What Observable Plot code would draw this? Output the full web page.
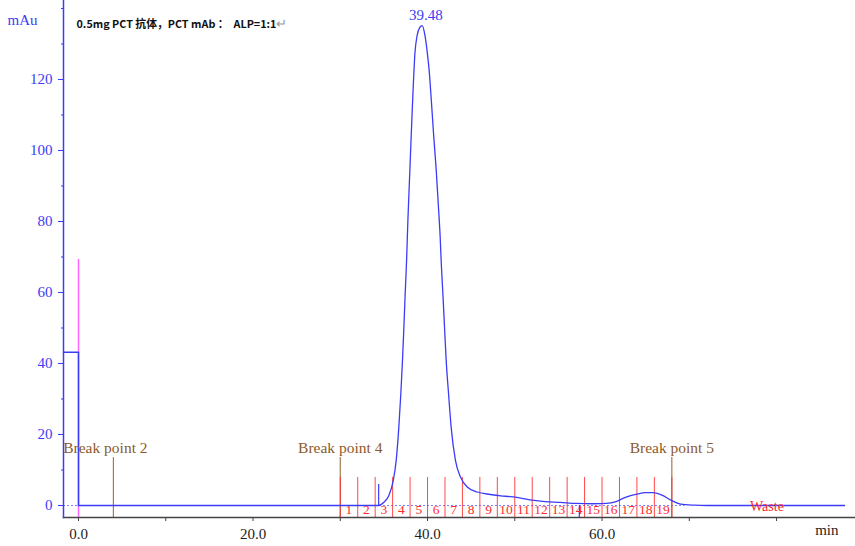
<!DOCTYPE html>
<html><head><meta charset="utf-8">
<script src="https://cdn.jsdelivr.net/npm/d3@7"></script>
<script src="https://cdn.jsdelivr.net/npm/@observablehq/plot@0.6"></script>
<style>body{margin:0;background:#fff}</style>
</head><body><div id="chart"></div>
<script>
// ---- data ----
const titleText = "0.5mg PCT 抗体，PCT mAb ：  ALP=1:1";
const stepTime = [-1.72, 0, 0];
const stepValue = [43.2, 43.2, 0];
const curveTime = [0, 34.4, 35.0, 35.57, 36.07, 36.41, 36.71, 36.94, 37.13, 37.29, 37.44, 37.6, 37.75, 37.9, 38.05, 38.2, 38.36, 38.55, 38.8, 39.1, 39.4, 39.7, 40.0, 40.19, 40.46, 40.72, 41.0, 41.23, 41.45, 41.58, 41.76, 41.95, 42.14, 42.41, 42.71, 43.2, 43.78, 44.55, 45.7, 47.2, 48.4, 49.5, 50.7, 52.0, 53.5, 55.2, 57.0, 59.0, 60.5, 61.5, 62.6, 64.0, 65.0, 65.8, 66.8, 67.9, 69.0, 70.6, 72.0, 87.8];
const curveValue = [0, 0, 0.9, 2.8, 7, 12.7, 22, 31.5, 40.8, 50.2, 59.6, 69, 80.3, 89.7, 99.1, 108.5, 117.8, 127.2, 132.3, 134.6, 135.2, 132.5, 127, 122.5, 113.2, 103.7, 94.4, 85, 75.6, 68, 59.6, 50.2, 40.8, 31.5, 22, 12.7, 8, 5.2, 3.8, 3.1, 2.7, 2.5, 2.1, 1.5, 1.1, 0.9, 0.6, 0.5, 0.6, 1.0, 2.2, 3.2, 3.6, 3.6, 3.0, 1.5, 0.4, 0.1, 0, 0];
const peakTime = 39.48;
const peakValue = 135.2;
const eventTime = [34.4, 57.4];
const eventTop = [5.9, -3.38];
const injectTime = [0];
const injectTop = 69.3;
const breakTime = [4, 30, 68];
const breakLabel = ["Break point 2", "Break point 4", "Break point 5"];
const breakTop = 13.5;
const fractionEdges = [30, 32, 34, 36, 38, 40, 42, 44, 46, 48, 50, 52, 54, 56, 58, 60, 62, 64, 66, 68];
const fractionLabels = ["1","2","3","4","5","6","7","8","9","10","11","12","13","14","15","16","17","18","19"];
const fractionTop = 7.9;
const wasteLabel = "Waste";
const wasteTime = 78.9;
const xLabeled = [0, 20, 40, 60];
const xUnlabeled = [10, 30, 50, 70, 80];
const yLabeled = [0, 20, 40, 60, 80, 100, 120];
const yMinor = [10, 30, 50, 70, 90, 110, 130, 140];
const xDomain = [-1.72, 89.05];
const yDomain = [-3.38, 142.25];

// ---- styles ----
const BLUE = "#3c3cf8";
const BROWN = "#8b5a2b";
const RED = "#ff2a2a";
const SERIF = "Liberation Serif, Times New Roman, serif";

const stepData = stepTime.map((t, i) => ({t, v: stepValue[i]}));
const curveData = curveTime.map((t, i) => ({t, v: curveValue[i]}));
const eventData = eventTime.map((t, i) => ({t, top: eventTop[i]}));
const breakData = breakTime.map((t, i) => ({t, label: breakLabel[i]}));
const fracMid = d3.pairs(fractionEdges, (a, b) => (a + b) / 2);
const fracData = fracMid.map((t, i) => ({t, label: fractionLabels[i]}));
const yMin = yDomain[0];

const plot = Plot.plot({
  width: 855, height: 546,
  marginLeft: 63, marginRight: 0, marginTop: 0, marginBottom: 29,
  x: {domain: xDomain},
  y: {domain: yDomain},
  style: {fontFamily: SERIF, background: "#fff"},
  marks: [
    Plot.ruleY([0], {x1: xDomain[0], x2: fractionEdges[fractionEdges.length - 1] + 1.5, stroke: "#7f7fff", strokeDasharray: "2,2", strokeWidth: 1}),
    Plot.ruleX(breakData, {x: "t", y1: yMin, y2: breakTop, stroke: "#a57a50", strokeWidth: 1.2}),
    Plot.ruleX(fractionEdges, {y1: yMin, y2: fractionTop, stroke: RED, strokeOpacity: 0.85, strokeWidth: 1}),
    Plot.ruleX(injectTime, {y1: yMin, y2: injectTop, stroke: "#ff66ff", strokeWidth: 1.5}),
    Plot.ruleX(eventData, {x: "t", y1: 0, y2: "top", stroke: BLUE, strokeWidth: 1.2}),
    Plot.line(stepData, {x: "t", y: "v", stroke: BLUE, strokeWidth: 1.5}),
    Plot.line(curveData, {x: "t", y: "v", stroke: BLUE, strokeWidth: 1.3, curve: "monotone-x"}),
    Plot.text(fracData, {x: "t", y: 0, text: "label", dy: 4, fill: RED, fontSize: 13.5, fontFamily: SERIF}),
    Plot.text([wasteLabel], {x: wasteTime, y: 0, text: d => d, dy: 1, fill: RED, fontSize: 14, fontFamily: SERIF}),
    Plot.text(breakData.slice(0, 1), {x: "t", y: breakTop, text: "label", dy: -10, dx: -8, fill: BROWN, fontSize: 15.5, fontFamily: SERIF}),
    Plot.text(breakData.slice(1), {x: "t", y: breakTop, text: "label", dy: -10, fill: BROWN, fontSize: 15.5, fontFamily: SERIF}),
    Plot.text([peakTime], {x: d => d, y: peakValue, text: d => d.toFixed(2), dy: -10, dx: 3, fill: BLUE, fontSize: 15, fontFamily: SERIF}),
    Plot.axisY(yLabeled, {tickSize: 5, tickPadding: 6, fontSize: 15, fill: BLUE, stroke: BLUE, label: null, fontFamily: SERIF}),
    Plot.axisY(yMinor, {tickSize: 2, tickFormat: () => "", stroke: BLUE, label: null}),
    Plot.axisX(xLabeled, {tickSize: 4, tickPadding: 7, tickFormat: d => d.toFixed(1), fontSize: 15, fill: "#222", stroke: "#444", label: null, fontFamily: SERIF}),
    Plot.axisX(xUnlabeled, {tickSize: 4, tickFormat: () => "", stroke: "#444", label: null}),
    Plot.frame({anchor: "bottom", stroke: "#444", strokeWidth: 1.5}),
    Plot.frame({anchor: "left", stroke: BLUE, strokeWidth: 1.5}),
    Plot.text(["mAu"], {frameAnchor: "top-left", textAnchor: "start", dx: -56, dy: 14, fill: BLUE, fontSize: 15, fontFamily: SERIF}),
    Plot.text(["min"], {frameAnchor: "bottom-right", textAnchor: "end", dx: -17, dy: 17, fill: "#222", fontSize: 15, fontFamily: SERIF}),
    Plot.text([titleText], {frameAnchor: "top-left", textAnchor: "start", dx: 13, dy: 20, fill: "#111", fontSize: 10.8, fontWeight: 600, fontFamily: "Noto Sans CJK SC, Noto Sans, sans-serif"})
  ]
});
document.getElementById("chart").appendChild(plot);
const tEl = [...plot.querySelectorAll("text")].find(e => e.textContent.startsWith("0.5mg"));
if (tEl) {
  const ts = document.createElementNS("http://www.w3.org/2000/svg", "tspan");
  ts.textContent = "↵";
  ts.setAttribute("fill", "#999");
  ts.setAttribute("font-size", "13");
  ts.setAttribute("font-weight", "400");
  tEl.appendChild(ts);
}
</script>
</body></html>
